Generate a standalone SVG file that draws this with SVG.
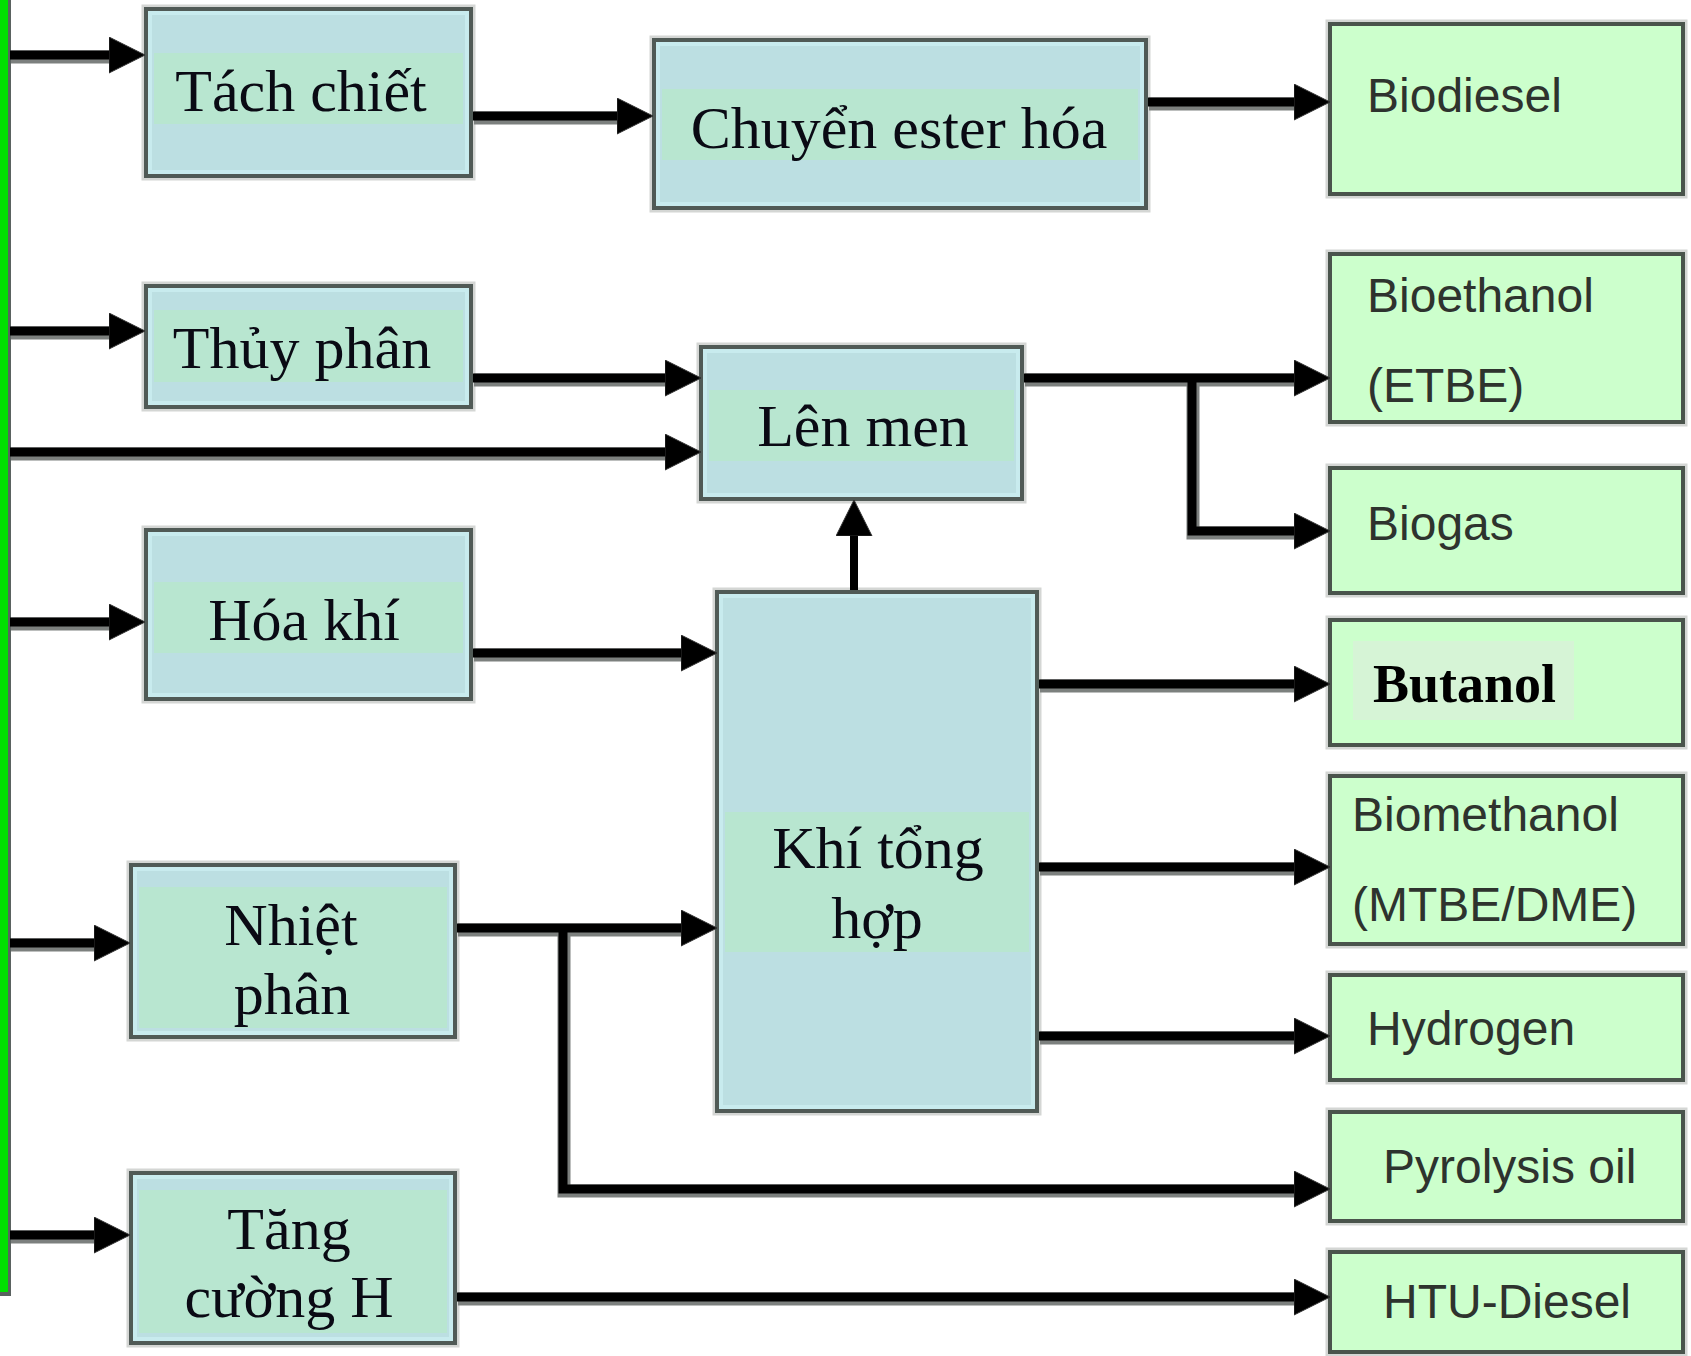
<svg xmlns="http://www.w3.org/2000/svg" width="1691" height="1356" viewBox="0 0 1691 1356">
<style>
.halo{fill:none;stroke:#d4d6d4;stroke-width:9}
.bbox{fill:#bcdfe2;stroke:#505a56;stroke-width:4}
.inner{fill:none;stroke:#c8ebee;stroke-width:4}
.band{fill:#b8e6d0}
.gbox{fill:#ccffcc;stroke:#4a544c;stroke-width:4}
.vt{font-family:"Liberation Serif","Times New Roman",serif;font-size:60px;fill:#0a0a14;text-anchor:middle}
.en{font-family:"Liberation Sans",Arial,sans-serif;font-size:48px;fill:#2e332e}
.bold{font-family:"Liberation Serif","Times New Roman",serif;font-size:54px;font-weight:bold;fill:#000}
.sh{fill:none;stroke:#7c807e;stroke-width:13;stroke-linejoin:miter}
.ln{fill:none;stroke:#000;stroke-width:9;stroke-linejoin:miter;marker-end:url(#ah)}
</style>
<defs>
<marker id="ah" markerUnits="userSpaceOnUse" markerWidth="40" markerHeight="40" refX="6" refY="18" orient="auto">
<path d="M0,0 L36,18 L0,36 z" fill="#000" stroke="#333" stroke-width="1"/>
</marker>
</defs>
<rect x="0" y="0" width="1691" height="1356" fill="#ffffff"/>

<g id="source-bar">
<rect x="0" y="0" width="11" height="1296" fill="#5a6260"/>
<rect x="0" y="0" width="8" height="1292" fill="#00e000"/>
</g>

<g id="tach-chiet">
<rect class="halo" x="146" y="9" width="325" height="167"/>
<rect class="bbox" x="146" y="9" width="325" height="167"/>
<rect class="inner" x="150" y="13" width="317" height="159"/>
<rect class="band" x="154" y="53" width="309" height="71"/>
<text class="vt" x="301" y="111">Tách chiết</text>
</g>

<g id="chuyen-ester-hoa">
<rect class="halo" x="654" y="40" width="492" height="168"/>
<rect class="bbox" x="654" y="40" width="492" height="168"/>
<rect class="inner" x="658" y="44" width="484" height="160"/>
<rect class="band" x="662" y="89" width="476" height="71"/>
<text class="vt" x="899" y="148">Chuyển ester hóa</text>
</g>

<g id="thuy-phan">
<rect class="halo" x="146" y="286" width="325" height="121"/>
<rect class="bbox" x="146" y="286" width="325" height="121"/>
<rect class="inner" x="150" y="290" width="317" height="113"/>
<rect class="band" x="154" y="310" width="309" height="72"/>
<text class="vt" x="302" y="368">Thủy phân</text>
</g>

<g id="len-men">
<rect class="halo" x="701" y="347" width="321" height="152"/>
<rect class="bbox" x="701" y="347" width="321" height="152"/>
<rect class="inner" x="705" y="351" width="313" height="144"/>
<rect class="band" x="709" y="390" width="305" height="71"/>
<text class="vt" x="863" y="446">Lên men</text>
</g>

<g id="hoa-khi">
<rect class="halo" x="146" y="530" width="325" height="169"/>
<rect class="bbox" x="146" y="530" width="325" height="169"/>
<rect class="inner" x="150" y="534" width="317" height="161"/>
<rect class="band" x="154" y="582" width="309" height="71"/>
<text class="vt" x="304" y="640">Hóa khí</text>
</g>

<g id="khi-tong-hop">
<rect class="halo" x="717" y="592" width="320" height="519"/>
<rect class="bbox" x="717" y="592" width="320" height="519"/>
<rect class="inner" x="721" y="596" width="312" height="511"/>
<rect class="band" x="725" y="812" width="304" height="140"/>
<text class="vt" x="878" y="868">Khí tổng</text>
<text class="vt" x="877" y="938">hợp</text>
</g>

<g id="nhiet-phan">
<rect class="halo" x="131" y="865" width="324" height="172"/>
<rect class="bbox" x="131" y="865" width="324" height="172"/>
<rect class="inner" x="135" y="869" width="316" height="164"/>
<rect class="band" x="139" y="887" width="308" height="141"/>
<text class="vt" x="291" y="945">Nhiệt</text>
<text class="vt" x="292" y="1014">phân</text>
</g>

<g id="tang-cuong-h">
<rect class="halo" x="131" y="1173" width="324" height="170"/>
<rect class="bbox" x="131" y="1173" width="324" height="170"/>
<rect class="inner" x="135" y="1177" width="316" height="162"/>
<rect class="band" x="139" y="1190" width="308" height="143"/>
<text class="vt" x="289" y="1249">Tăng</text>
<text class="vt" x="289" y="1317">cường H</text>
</g>

<g id="biodiesel">
<rect class="halo" x="1330" y="24" width="353" height="170"/>
<rect class="gbox" x="1330" y="24" width="353" height="170"/>
<text class="en" x="1367" y="112">Biodiesel</text>
</g>

<g id="bioethanol">
<rect class="halo" x="1330" y="254" width="353" height="168"/>
<rect class="gbox" x="1330" y="254" width="353" height="168"/>
<text class="en" x="1367" y="312">Bioethanol</text>
<text class="en" x="1367" y="402">(ETBE)</text>
</g>

<g id="biogas">
<rect class="halo" x="1330" y="468" width="353" height="125"/>
<rect class="gbox" x="1330" y="468" width="353" height="125"/>
<text class="en" x="1367" y="540">Biogas</text>
</g>

<g id="butanol">
<rect class="halo" x="1330" y="620" width="353" height="125"/>
<rect class="gbox" x="1330" y="620" width="353" height="125"/>
<rect x="1353" y="641" width="221" height="79" fill="#d6f4d6"/>
<text class="bold" x="1373" y="702">Butanol</text>
</g>

<g id="biomethanol">
<rect class="halo" x="1330" y="776" width="353" height="168"/>
<rect class="gbox" x="1330" y="776" width="353" height="168"/>
<text class="en" x="1352" y="831">Biomethanol</text>
<text class="en" x="1352" y="921">(MTBE/DME)</text>
</g>

<g id="hydrogen">
<rect class="halo" x="1330" y="975" width="353" height="105"/>
<rect class="gbox" x="1330" y="975" width="353" height="105"/>
<text class="en" x="1367" y="1045">Hydrogen</text>
</g>

<g id="pyrolysis-oil">
<rect class="halo" x="1330" y="1112" width="353" height="109"/>
<rect class="gbox" x="1330" y="1112" width="353" height="109"/>
<text class="en" x="1383" y="1183">Pyrolysis oil</text>
</g>

<g id="htu-diesel">
<rect class="halo" x="1330" y="1252" width="353" height="100"/>
<rect class="gbox" x="1330" y="1252" width="353" height="100"/>
<text class="en" x="1383" y="1318">HTU-Diesel</text>
</g>

<g id="connectors">
<g class="shadow" transform="translate(1,2)">
<path class="sh" d="M10,55 H115"/>
<path class="sh" d="M10,331 H115"/>
<path class="sh" d="M10,452 H671"/>
<path class="sh" d="M10,622 H115"/>
<path class="sh" d="M10,943 H100"/>
<path class="sh" d="M10,1235 H100"/>
<path class="sh" d="M473,116 H623"/>
<path class="sh" d="M1148,102 H1300"/>
<path class="sh" d="M473,378 H671"/>
<path class="sh" d="M1024,378 H1300"/>
<path class="sh" d="M1192,378 V531 H1300"/>
<path class="sh" d="M473,653 H687"/>
<path class="sh" d="M1039,684 H1300"/>
<path class="sh" d="M1039,867 H1300"/>
<path class="sh" d="M1039,1036 H1300"/>
<path class="sh" d="M457,928 H687"/>
<path class="sh" d="M563,928 V1189 H1300"/>
<path class="sh" d="M457,1297 H1300"/>
</g>
<path class="ln" d="M10,55 H115"/>
<path class="ln" d="M10,331 H115"/>
<path class="ln" d="M10,452 H671"/>
<path class="ln" d="M10,622 H115"/>
<path class="ln" d="M10,943 H100"/>
<path class="ln" d="M10,1235 H100"/>
<path class="ln" d="M473,116 H623"/>
<path class="ln" d="M1148,102 H1300"/>
<path class="ln" d="M473,378 H671"/>
<path class="ln" d="M1024,378 H1300"/>
<path class="ln" d="M1192,378 V531 H1300"/>
<path class="ln" d="M473,653 H687"/>
<path class="ln" d="M1039,684 H1300"/>
<path class="ln" d="M1039,867 H1300"/>
<path class="ln" d="M1039,1036 H1300"/>
<path class="ln" d="M457,928 H687"/>
<path class="ln" d="M563,928 V1189 H1300"/>
<path class="ln" d="M457,1297 H1300"/>
<path d="M854,590 V530" fill="none" stroke="#000" stroke-width="8" marker-end="url(#ah)"/>
</g>
</svg>
